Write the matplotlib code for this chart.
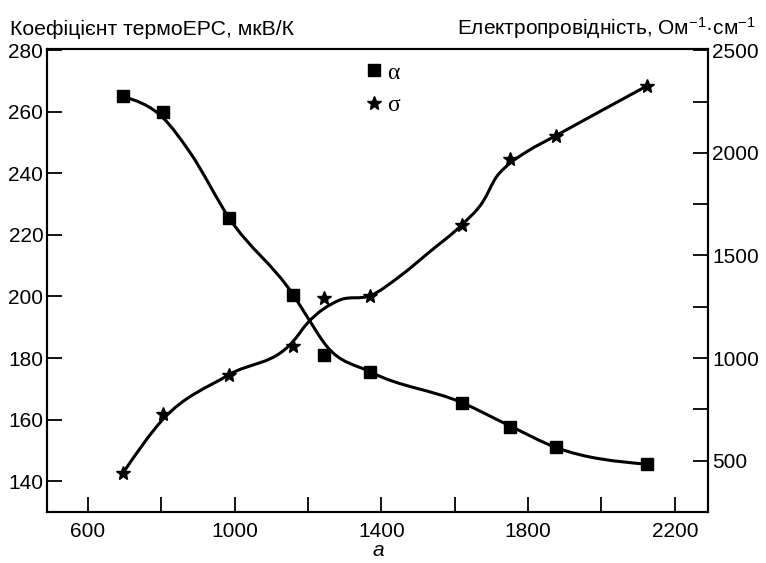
import numpy as np
import matplotlib.pyplot as plt
from matplotlib.path import Path
from matplotlib.patches import PathPatch

plt.rcParams['font.family'] = ['Liberation Sans', 'DejaVu Sans']
plt.rcParams['mathtext.fontset'] = 'custom'
plt.rcParams['mathtext.rm'] = 'Liberation Sans'
plt.rcParams['mathtext.it'] = 'Liberation Sans:italic'

# measured points
x_pts = [695, 805, 985, 1160, 1245, 1370, 1620, 1750, 1875, 2125]
alpha_pts = [265, 260, 225.5, 200.5, 181, 175.5, 165.5, 157.5, 151, 145.5]
sigma_pts = [438, 728, 919, 1060, 1294, 1304, 1650, 1971, 2083, 2327]

# smooth fitted curves
alpha_fit_x = [695, 805, 880, 985, 1160, 1200, 1250, 1370, 1620, 1750, 1875, 2125]
alpha_fit = [265, 258, 246.5, 225.5, 200.5, 193, 184, 175.5, 165.5, 158, 151, 145.5]
sigma_fit_x = [695, 805, 985, 1160, 1198, 1287, 1370, 1450, 1532, 1620, 1677, 1714,
               1750, 1796, 1875, 2125]
sigma_fit = [438, 702, 919, 1082, 1169, 1283, 1304, 1398, 1518, 1650, 1762, 1883,
             1948, 2005, 2083, 2327]

x_major = [600, 1000, 1400, 1800, 2200]
x_minor = [800, 1200, 1600, 2000]
left_ticks = [140, 160, 180, 200, 220, 240, 260, 280]
right_major = [500, 1000, 1500, 2000, 2500]
right_minor = [750, 1250, 1750, 2250]


def smooth_path(xs, ys):
    # cubic Hermite with parabolic (Bessel) slopes, pieces drawn as Bezier segments
    xs = np.asarray(xs, float)
    ys = np.asarray(ys, float)
    n = len(xs)
    h = np.diff(xs)
    s = np.diff(ys) / h
    d = np.zeros(n)
    d[1:-1] = (h[1:] * s[:-1] + h[:-1] * s[1:]) / (h[:-1] + h[1:])
    d[0] = 1.5 * s[0] - 0.5 * d[1]
    d[-1] = 1.5 * s[-1] - 0.5 * d[-2]
    verts = [(xs[0], ys[0])]
    codes = [Path.MOVETO]
    for i in range(n - 1):
        verts += [(xs[i] + h[i] / 3, ys[i] + d[i] * h[i] / 3),
                  (xs[i + 1] - h[i] / 3, ys[i + 1] - d[i + 1] * h[i] / 3),
                  (xs[i + 1], ys[i + 1])]
        codes += [Path.CURVE4] * 3
    return Path(verts, codes)


fig = plt.figure(figsize=(7.66, 5.63), dpi=100)
ax = fig.add_axes([0.062, 0.0906, 0.862, 0.822])
ax2 = ax.twinx()

ax.add_patch(PathPatch(smooth_path(alpha_fit_x, alpha_fit), fill=False, lw=2.2, color='black'))
ax2.add_patch(PathPatch(smooth_path(sigma_fit_x, sigma_fit), fill=False, lw=2.2, color='black'))
l1, = ax.plot(x_pts, alpha_pts, 's', color='black', ms=8, label='α')
l2, = ax2.plot(x_pts, sigma_pts, '*', color='black', ms=10, label='σ')

ax.set_xlim(490, 2290)
ax.set_ylim(130, 280.3)
ax2.set_ylim(250, 2505)

ax.set_xticks(x_major)
ax.set_xticks(x_minor, minor=True)
ax.set_yticks(left_ticks)
ax2.set_yticks(right_major)
ax2.set_yticks(right_minor, minor=True)

ax.tick_params(axis='both', which='both', direction='in', length=11, width=1.3,
               labelsize=15, pad=3)
ax2.tick_params(axis='y', which='both', direction='in', length=11, width=1.3,
                labelsize=15, pad=3)
ax.tick_params(axis='x', pad=7)
for a in (ax, ax2):
    for sp in a.spines.values():
        sp.set_linewidth(1.5)

fig.text(0.013, 0.947, 'Коефіцієнт термоЕРС, мкВ/К', fontsize=15.3, ha='left', va='center')
fig.text(0.986, 0.95, 'Електропровідність, Ом$^{-1}$·см$^{-1}$', fontsize=15,
         ha='right', va='center')
fig.text(0.494, 0.022, 'а', fontsize=15, style='italic', ha='center', va='center')

ax.legend(handles=[l1, l2], loc='upper center', bbox_to_anchor=(0.507, 1.018),
          frameon=False, handlelength=0.8, handletextpad=0.15,
          labelspacing=0.45, prop={'family': 'Liberation Serif', 'size': 17})

fig.savefig('out.png', dpi=100)
